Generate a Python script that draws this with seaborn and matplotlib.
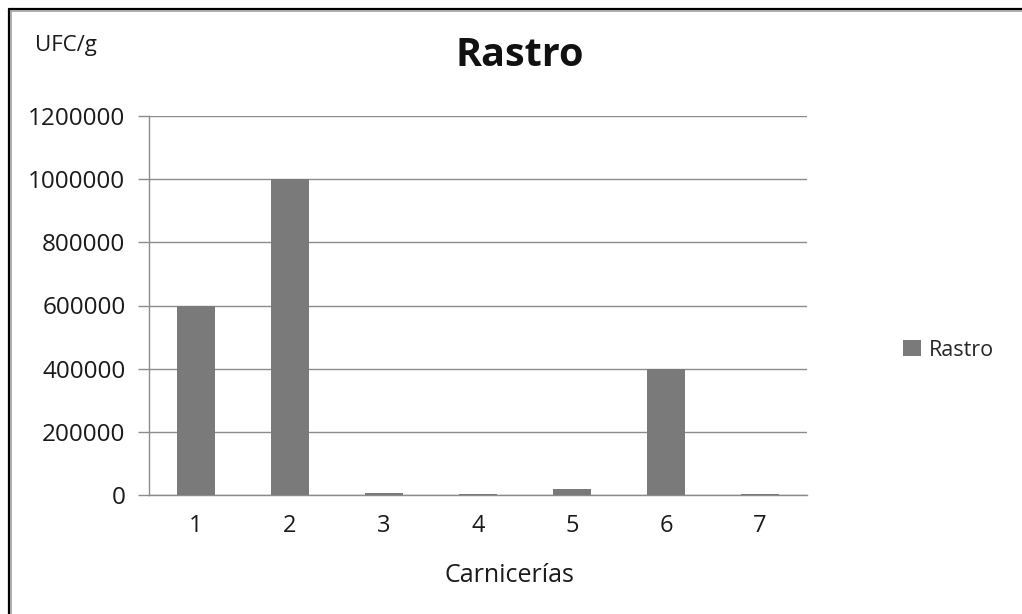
import matplotlib
matplotlib.use("Agg")
import matplotlib.pyplot as plt
from matplotlib.lines import Line2D
from matplotlib.patches import Patch
import seaborn as sns
import pandas as pd

# Bacterial counts per butcher shop
carnicerias = ["1", "2", "3", "4", "5", "6", "7"]
rastro = [600000, 1000000, 7000, 3000, 20000, 400000, 3000]
y_ticks = [0, 200000, 400000, 600000, 800000, 1000000, 1200000]

sns.set_theme(style="white")
plt.rcParams["font.family"] = ["Open Sans", "DejaVu Sans"]

W, H = 1022, 614
fig = plt.figure(figsize=(W / 100, H / 100), dpi=100)
ax = fig.add_axes([149 / W, 1 - 495 / H, (807 - 149) / W, (495 - 116) / H])

df = pd.DataFrame({"Carnicerías": carnicerias, "Rastro": rastro})
bar_color = "#7a7a7a"
sns.barplot(data=df, x="Carnicerías", y="Rastro", color=bar_color,
            width=0.41, saturation=1, linewidth=0, edgecolor="none", ax=ax, zorder=3)

grid_col = "#8c8c8c"
text_col = "#1a1a1a"
ax.set_ylim(0, 1200000)
ax.set_xlim(-0.5, len(carnicerias) - 0.5)
ax.set_yticks(y_ticks)
ax.set_yticklabels([str(v) for v in y_ticks], fontsize=17.5, color=text_col)
ax.yaxis.grid(True, color=grid_col, linewidth=1)
ax.set_axisbelow(True)

# category labels centred, tick marks on the category boundaries
ax.set_xticks(range(len(carnicerias)))
ax.set_xticklabels(carnicerias, fontsize=17, color=text_col)
ax.set_xticks([i - 0.5 for i in range(len(carnicerias) + 1)], minor=True)
ax.tick_params(axis="x", which="major", length=0, pad=14)
ax.tick_params(axis="x", which="minor", length=7, width=1, color=grid_col, direction="out")
ax.tick_params(axis="y", which="major", length=8, width=1, color=grid_col,
               direction="out", pad=9, left=True)

for side in ("top", "right"):
    ax.spines[side].set_visible(False)
for side in ("left", "bottom"):
    ax.spines[side].set_color(grid_col)
    ax.spines[side].set_linewidth(1)

ax.set_xlabel("")
ax.set_ylabel("")
fig.text(509 / W, 1 - 576 / H, "Carnicerías", fontsize=18, color=text_col,
         ha="center", va="center")

fig.text(520 / W, 1 - 56 / H, "Rastro", fontsize=28.5, fontweight="bold",
         ha="center", va="center", color="#111111")
fig.text(35 / W, 1 - 46 / H, "UFC/g", fontsize=16, ha="left", va="center",
         color=text_col)

fig.legend(handles=[Patch(facecolor=bar_color, edgecolor="none", label="Rastro")],
           loc="center left", bbox_to_anchor=(903 / W, 1 - 350 / H), frameon=False,
           fontsize=15.5, handlelength=0.85, handleheight=0.75, handletextpad=0.35,
           borderpad=0, borderaxespad=0)

# chart frame
fig.add_artist(Line2D([8.5 / W, 8.5 / W], [0, 1 - 8.5 / H], transform=fig.transFigure,
                      color="black", linewidth=1.6))
fig.add_artist(Line2D([8.5 / W, 1], [1 - 8.5 / H, 1 - 8.5 / H], transform=fig.transFigure,
                      color="black", linewidth=1.6))
fig.add_artist(Line2D([11 / W, 11 / W], [0, 1 - 11 / H], transform=fig.transFigure,
                      color="#a0a0a0", linewidth=1.2))
fig.add_artist(Line2D([11 / W, 1], [1 - 11 / H, 1 - 11 / H], transform=fig.transFigure,
                      color="#a0a0a0", linewidth=1.2))

fig.savefig("out.png", dpi=100, facecolor="white")
